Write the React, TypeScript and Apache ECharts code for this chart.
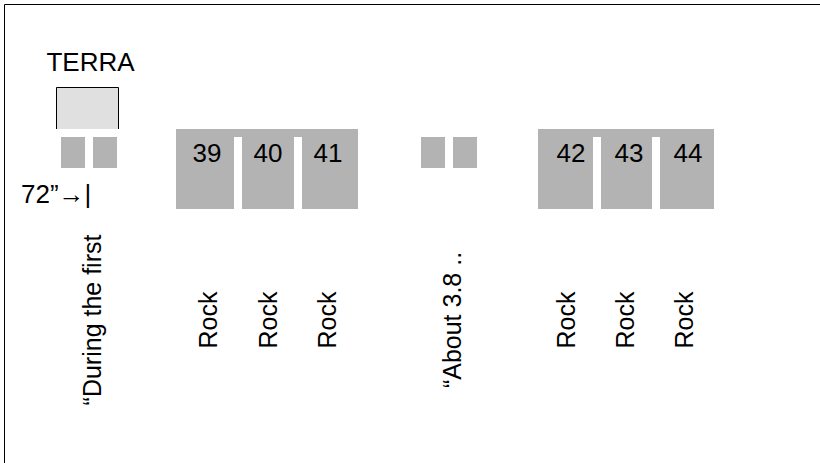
import React, { useEffect, useRef } from 'react';
import * as echarts from 'echarts';

// Diagram data (in diagram units along a 0..820 by 0..463 plane)
const rockNumbers = ['39', '40', '41', '42', '43', '44'];
const rockStart = [176, 242, 302, 538, 601, 660];
const rockEnd = [234, 294, 358, 593, 652, 714];
const rockNumberCenter = [207, 268, 328, 571, 629, 688];
const rockTop = 129;
const rockBottom = 209;
const numberRow = 153;

const groupStart = [176, 538];
const groupEnd = [358, 714];
const groupBandBottom = 137;

const smallStart = [61, 93, 421, 453];
const smallEnd = [85, 117, 445, 477];
const smallTop = 137;
const smallBottom = 168;

const terraBox = [56, 119, 87, 129];

const verticalLabels = ['“During the first', 'Rock', 'Rock', 'Rock', '“About 3.8 ..', 'Rock', 'Rock', 'Rock'];
const verticalLabelCenter = [92, 208, 268, 327, 452, 566, 625, 684];
const verticalLabelRow = 320;

const notes = ['TERRA', '72”→|'];
const noteX = [90.5, 21];
const noteY = [62, 194];
const noteAlign = ['center', 'left'];

const GRAY = '#b3b3b3';
const LIGHT = '#e0e0e0';
const FONT = '"Liberation Sans", Arial, sans-serif';

export default function App() {
  const ref = useRef<HTMLDivElement>(null);
  useEffect(() => {
    document.body.style.margin = '0';
    const chart = echarts.init(ref.current!, null, { renderer: 'svg' });

    const rectItem = (params: any, api: any) => {
      const p0 = api.coord([api.value(0), api.value(2)]);
      const p1 = api.coord([api.value(1), api.value(3)]);
      return {
        type: 'rect',
        shape: { x: p0[0], y: p0[1], width: p1[0] - p0[0], height: p1[1] - p0[1] },
        style: { fill: GRAY },
      };
    };

    const option: any = {
      animation: false,
      grid: { left: 0, right: 0, top: 0, bottom: 0 },
      xAxis: { type: 'value', min: 0, max: 820, show: false },
      yAxis: { type: 'value', min: 0, max: 463, inverse: true, show: false },
      graphic: [
        { type: 'line', shape: { x1: 4.5, y1: 4.5, x2: 820, y2: 4.5 }, style: { stroke: '#000', lineWidth: 1 } },
        { type: 'line', shape: { x1: 4.5, y1: 4.5, x2: 4.5, y2: 463 }, style: { stroke: '#000', lineWidth: 1 } },
      ],
      series: [
        {
          type: 'custom',
          name: 'groups',
          renderItem: rectItem,
          data: groupStart.map((s, i) => [s, groupEnd[i], rockTop, groupBandBottom]),
        },
        {
          type: 'custom',
          name: 'rocks',
          renderItem: (params: any, api: any) => {
            const p0 = api.coord([api.value(0), api.value(2)]);
            const p1 = api.coord([api.value(1), api.value(3)]);
            const c = api.coord([api.value(4), numberRow]);
            return {
              type: 'group',
              children: [
                {
                  type: 'rect',
                  shape: { x: p0[0], y: p0[1], width: p1[0] - p0[0], height: p1[1] - p0[1] },
                  style: { fill: GRAY },
                },
                {
                  type: 'text',
                  x: c[0],
                  y: c[1],
                  style: {
                    text: rockNumbers[params.dataIndex],
                    fontSize: 26,
                    fontFamily: FONT,
                    fill: '#000',
                    align: 'center',
                    verticalAlign: 'middle',
                  },
                },
              ],
            };
          },
          data: rockStart.map((s, i) => [s, rockEnd[i], rockTop, rockBottom, rockNumberCenter[i]]),
        },
        {
          type: 'custom',
          name: 'small',
          renderItem: rectItem,
          data: smallStart.map((s, i) => [s, smallEnd[i], smallTop, smallBottom]),
        },
        {
          type: 'custom',
          name: 'terraBox',
          renderItem: (params: any, api: any) => {
            const p0 = api.coord([api.value(0), api.value(2)]);
            const p1 = api.coord([api.value(1), api.value(3)]);
            return {
              type: 'group',
              children: [
                {
                  type: 'rect',
                  shape: { x: p0[0], y: p0[1], width: p1[0] - p0[0], height: p1[1] - p0[1] },
                  style: { fill: LIGHT },
                },
                {
                  type: 'polyline',
                  shape: {
                    points: [
                      [p0[0] + 0.5, p1[1]],
                      [p0[0] + 0.5, p0[1] + 0.5],
                      [p1[0] - 0.5, p0[1] + 0.5],
                      [p1[0] - 0.5, p1[1]],
                    ],
                  },
                  style: { stroke: '#000', lineWidth: 1, fill: 'none' },
                },
              ],
            };
          },
          data: [terraBox],
        },
        {
          type: 'custom',
          name: 'verticalLabels',
          renderItem: (params: any, api: any) => {
            const c = api.coord([api.value(0), api.value(1)]);
            return {
              type: 'text',
              x: c[0],
              y: c[1],
              rotation: Math.PI / 2,
              style: {
                text: verticalLabels[params.dataIndex],
                fontSize: 25,
                fontFamily: FONT,
                fill: '#000',
                align: 'center',
                verticalAlign: 'middle',
              },
            };
          },
          data: verticalLabelCenter.map((x) => [x, verticalLabelRow]),
        },
        {
          type: 'custom',
          name: 'notes',
          renderItem: (params: any, api: any) => {
            const c = api.coord([api.value(0), api.value(1)]);
            return {
              type: 'text',
              x: c[0],
              y: c[1],
              style: {
                text: notes[params.dataIndex],
                fontSize: 26,
                fontFamily: FONT,
                fill: '#000',
                align: noteAlign[params.dataIndex],
                verticalAlign: 'middle',
              },
            };
          },
          data: noteX.map((x, i) => [x, noteY[i]]),
        },
      ],
    };
    chart.setOption(option);
    return () => chart.dispose();
  }, []);
  return <div ref={ref} style={{ width: 820, height: 463 }} />;
}
